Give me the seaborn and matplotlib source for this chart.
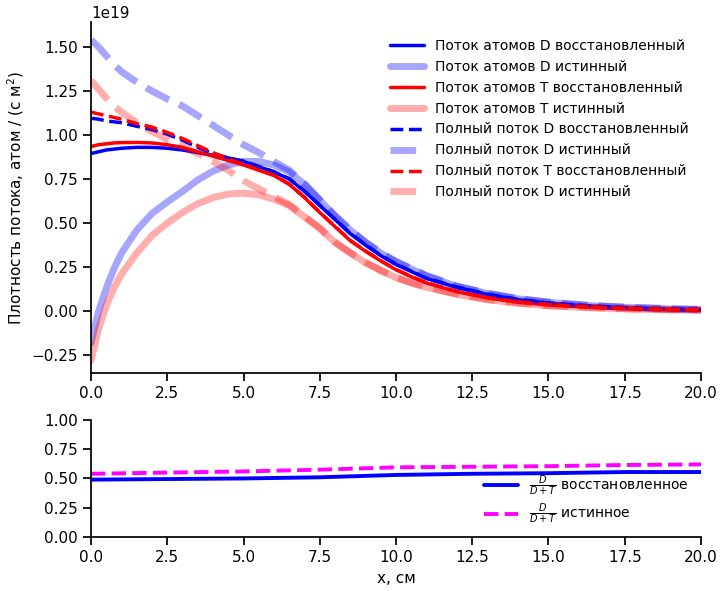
import matplotlib
matplotlib.use("Agg")
import matplotlib.pyplot as plt
import numpy as np
import seaborn as sns

# x grid, cm
x_cm = [0, 0.25, 0.5, 0.75, 1, 1.5, 2, 2.5, 3, 3.5, 4, 4.5, 5, 5.5, 6, 6.5, 7,
        7.5, 8, 8.5, 9, 9.5, 10, 10.5, 11, 12, 13, 14, 15, 16, 17, 18, 19, 20]

# fluxes, units of 1e19 atom / (s m^2)
atom_d_rec = [0.895, 0.905, 0.915, 0.92, 0.925, 0.93, 0.93, 0.925, 0.915, 0.90,
              0.885, 0.87, 0.85, 0.82, 0.79, 0.75, 0.68, 0.60, 0.52, 0.44, 0.375,
              0.315, 0.265, 0.225, 0.185, 0.135, 0.095, 0.065, 0.045, 0.032,
              0.022, 0.015, 0.01, 0.007]
atom_d_true = [-0.18, 0.0, 0.13, 0.24, 0.33, 0.46, 0.555, 0.62, 0.68, 0.745,
               0.795, 0.83, 0.85, 0.85, 0.83, 0.79, 0.72, 0.63, 0.54, 0.46, 0.39,
               0.33, 0.28, 0.24, 0.20, 0.14, 0.10, 0.07, 0.05, 0.035, 0.025,
               0.018, 0.012, 0.008]
atom_t_rec = [0.935, 0.945, 0.95, 0.955, 0.957, 0.958, 0.955, 0.945, 0.93, 0.905,
              0.88, 0.855, 0.83, 0.80, 0.77, 0.72, 0.645, 0.56, 0.48, 0.40, 0.34,
              0.285, 0.235, 0.195, 0.16, 0.11, 0.075, 0.05, 0.035, 0.025, 0.017,
              0.011, 0.007, 0.005]
atom_t_true = [-0.28, -0.10, 0.03, 0.13, 0.21, 0.33, 0.43, 0.50, 0.56, 0.61,
               0.645, 0.665, 0.67, 0.66, 0.635, 0.60, 0.535, 0.47, 0.39, 0.33,
               0.275, 0.23, 0.19, 0.16, 0.135, 0.095, 0.065, 0.045, 0.03, 0.022,
               0.015, 0.01, 0.007, 0.005]
full_d_rec = [1.095, 1.09, 1.08, 1.075, 1.07, 1.05, 1.03, 1.005, 0.97, 0.93,
              0.895, 0.87, 0.852, 0.822, 0.792, 0.752, 0.682, 0.602, 0.522, 0.442,
              0.377, 0.317, 0.267, 0.227, 0.187, 0.137, 0.097, 0.067, 0.047,
              0.034, 0.024, 0.017, 0.012, 0.009]
full_d_true = [1.54, 1.50, 1.45, 1.40, 1.36, 1.30, 1.25, 1.205, 1.165, 1.11,
               1.055, 1.00, 0.945, 0.90, 0.85, 0.80, 0.722, 0.632, 0.542, 0.462,
               0.392, 0.332, 0.282, 0.242, 0.202, 0.142, 0.102, 0.072, 0.052,
               0.037, 0.027, 0.02, 0.014, 0.01]
full_t_rec = [1.13, 1.12, 1.11, 1.10, 1.09, 1.065, 1.045, 1.015, 0.98, 0.94,
              0.90, 0.865, 0.835, 0.803, 0.772, 0.722, 0.647, 0.562, 0.482, 0.402,
              0.342, 0.287, 0.237, 0.197, 0.162, 0.112, 0.077, 0.052, 0.037,
              0.027, 0.019, 0.013, 0.009, 0.007]
full_t_true = [1.31, 1.26, 1.21, 1.165, 1.13, 1.07, 1.02, 0.975, 0.935, 0.895,
               0.85, 0.80, 0.74, 0.695, 0.65, 0.605, 0.537, 0.472, 0.392, 0.332,
               0.277, 0.232, 0.192, 0.162, 0.137, 0.097, 0.067, 0.047, 0.032,
               0.024, 0.017, 0.012, 0.009, 0.007]

# D / (D + T) ratio
ratio_x = [0, 2.5, 5, 7.5, 10, 12.5, 15, 17.5, 20]
ratio_rec = [0.49, 0.495, 0.50, 0.51, 0.53, 0.54, 0.545, 0.555, 0.555]
ratio_true = [0.54, 0.55, 0.56, 0.575, 0.595, 0.60, 0.605, 0.615, 0.62]

series = [
    (atom_d_rec, "Поток атомов D восстановленный", "blue", 1.0, 2.5, "-"),
    (atom_d_true, "Поток атомов D истинный", "blue", 0.35, 5, "-"),
    (atom_t_rec, "Поток атомов T восстановленный", "red", 1.0, 2.5, "-"),
    (atom_t_true, "Поток атомов T истинный", "red", 0.32, 5, "-"),
    (full_d_rec, "Полный поток D восстановленный", "blue", 1.0, 2.5, "--"),
    (full_d_true, "Полный поток D истинный", "blue", 0.35, 5, "--"),
    (full_t_rec, "Полный поток T восстановленный", "red", 1.0, 2.5, "--"),
    (full_t_true, "Полный поток D истинный", "red", 0.32, 5, "--"),
]

sns.set_theme(style="ticks", rc={
    "text.color": "black", "axes.labelcolor": "black", "axes.edgecolor": "black",
    "xtick.color": "black", "ytick.color": "black",
})
plt.rcParams["font.family"] = ["DejaVu Sans"]

fig, (ax, ax2) = plt.subplots(
    2, 1, figsize=(7.2, 5.91), dpi=100,
    gridspec_kw={"height_ratios": [3, 1], "hspace": 0.2},
)
fig.subplots_adjust(left=0.1264, right=0.9736, top=0.9628, bottom=0.0914)

x = np.array(x_cm)
for vals, label, color, alpha, lw, ls in series:
    sns.lineplot(x=x, y=np.array(vals) * 1e19, ax=ax, color=color, alpha=alpha,
                 lw=lw, linestyle=ls, label=label, sort=False)

ax.set_xlim(0, 20)
ax.set_ylim(-0.352e19, 1.642e19)
ax.set_yticks(np.arange(-0.25, 1.51, 0.25) * 1e19)
ax.set_ylabel("Плотность потока, атом / (с м$^2$)", fontsize=11)
ax.set_xlabel("")
ax.tick_params(labelsize=11)
ax.legend(loc="upper right", bbox_to_anchor=(1.0, 0.988), frameon=False,
          fontsize=10, handlelength=2.4)
sns.despine(ax=ax)

sns.lineplot(x=ratio_x, y=ratio_rec, ax=ax2, color="blue", lw=2.8,
             label=r"$\frac{D}{D+T}$ восстановленное")
sns.lineplot(x=ratio_x, y=ratio_true, ax=ax2, color="magenta", lw=2.8,
             linestyle="--", label=r"$\frac{D}{D+T}$ истинное")
ax2.set_xlim(0, 20)
ax2.set_ylim(0, 1)
ax2.set_yticks([0, 0.25, 0.5, 0.75, 1.0])
ax2.set_xlabel("x, см", fontsize=11)
ax2.set_ylabel("")
ax2.tick_params(labelsize=11)
ax2.legend(loc="lower right", bbox_to_anchor=(1.0, -0.017), frameon=False,
           fontsize=10, handlelength=2.4, labelspacing=0.3)
sns.despine(ax=ax2)

fig.savefig("out.png", dpi=100)
plt.close(fig)
